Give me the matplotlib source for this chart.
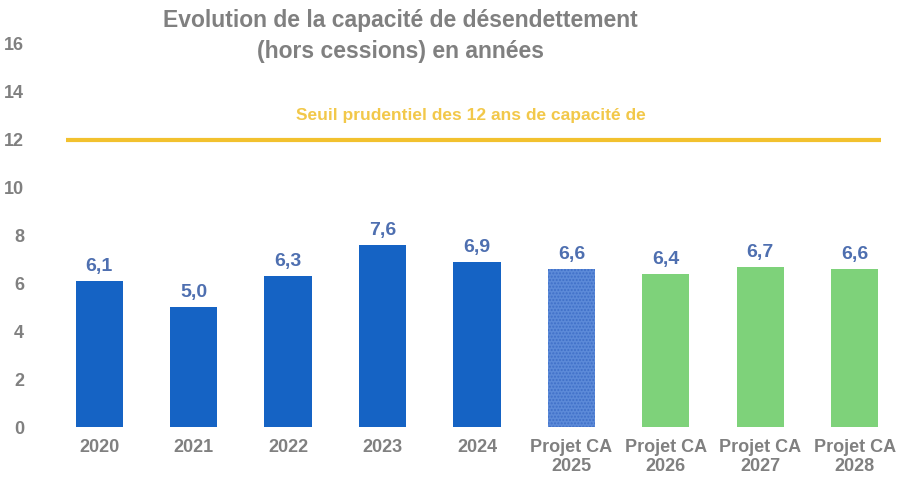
import matplotlib.pyplot as plt

categories = ['2020', '2021', '2022', '2023', '2024',
              'Projet CA\n2025', 'Projet CA\n2026', 'Projet CA\n2027', 'Projet CA\n2028']
values = [6.1, 5.0, 6.3, 7.6, 6.9, 6.6, 6.4, 6.7, 6.6]
kinds = ['real'] * 5 + ['pattern'] + ['projet'] * 3
threshold = 12
y_ticks = [0, 2, 4, 6, 8, 10, 12, 14, 16]

colors = {'real': '#1563c4', 'pattern': '#5c8ad8', 'projet': '#7ed27a'}
grey = '#808080'
plt.rcParams['font.family'] = ['Liberation Sans', 'DejaVu Sans']

fig = plt.figure(figsize=(9.03, 4.80), dpi=100)
ax = fig.add_axes([52 / 903, 53 / 480, 850 / 903, 383 / 480])

x = list(range(len(categories)))
for i, (v, k) in enumerate(zip(values, kinds)):
    if k == 'pattern':
        ax.bar(i, v, width=0.5, color=colors[k], edgecolor='#3f6fc8', hatch='.....', linewidth=0)
    else:
        ax.bar(i, v, width=0.5, color=colors[k], linewidth=0)
    ax.text(i, v + 0.25, f"{v:.1f}".replace('.', ','), ha='center', va='bottom',
            fontsize=14, fontweight='bold', color='#4e6fb0')

ax.hlines(threshold, -0.35, 8.28, color='#f2c12e', linewidth=3)
ax.text(3.94, threshold + 1.0, "Seuil prudentiel des 12 ans de capacité de", ha='center',
        va='center', fontsize=12.5, fontweight='bold', color='#f2c84a')

ax.set_xlim(-0.5, 8.5)
ax.set_ylim(0, 16)
ax.set_yticks(y_ticks)
ax.set_xticks(x)
ax.set_xticklabels(categories, fontsize=13, fontweight='bold', color=grey, linespacing=1.1)
for lab in ax.get_yticklabels():
    lab.set_fontsize(13)
    lab.set_fontweight('bold')
    lab.set_color(grey)
ax.tick_params(length=0, axis='y', pad=20)
ax.tick_params(length=0, axis='x', pad=9)
for s in ax.spines.values():
    s.set_visible(False)

fig.text(0.443, 0.925, "Evolution de la capacité de désendettement\n(hors cessions) en années",
         ha='center', va='center', fontsize=16.5, fontweight='bold', color=grey, linespacing=1.45)

fig.savefig('out.png', dpi=100)
